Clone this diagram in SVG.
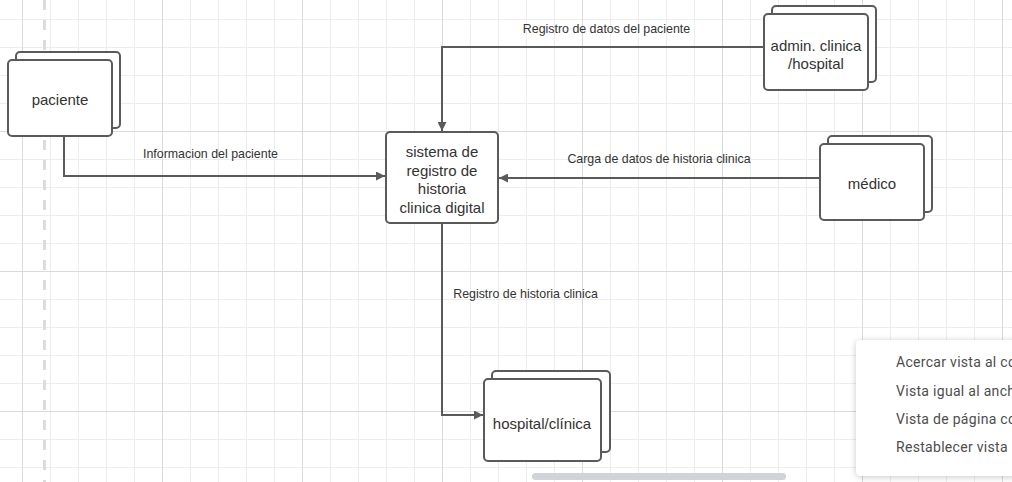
<svg xmlns="http://www.w3.org/2000/svg" width="1012" height="482" viewBox="0 0 1012 482">
<style>
.box{fill:#ffffff;stroke:#5a5a5a;stroke-width:2}
.nt{font-family:"Liberation Sans",Arial,sans-serif;font-size:15px;fill:#333333;text-anchor:middle}
.lb{font-family:"Liberation Sans",Arial,sans-serif;font-size:12.4px;fill:#333333;text-anchor:middle}
.cn{fill:none;stroke:#5a5a5a;stroke-width:2}
.mt{font-family:Roboto,"Liberation Sans",sans-serif;font-size:14px;fill:#4d4d4d;letter-spacing:0.3px}
</style>
<defs>
<pattern id="gmin" patternUnits="userSpaceOnUse" x="22" y="19" width="28" height="28">
<path d="M0.5 0V28M0 0.5H28" stroke="#ededed" stroke-width="1" fill="none"/>
</pattern>
<pattern id="gmaj" patternUnits="userSpaceOnUse" x="22" y="-9" width="140" height="140">
<path d="M0.5 0V140M0 0.5H140" stroke="#dadada" stroke-width="1" fill="none"/>
</pattern>
<marker id="ar" viewBox="0 0 10 10" refX="10" refY="5" markerWidth="11" markerHeight="9" markerUnits="userSpaceOnUse" orient="auto">
<path d="M0 0L10 5L0 10Z" fill="#5a5a5a"/>
</marker>
<filter id="sh" x="-20%" y="-20%" width="140%" height="150%">
<feDropShadow dx="0" dy="1" stdDeviation="3" flood-color="#000000" flood-opacity="0.22"/>
</filter>
</defs>
<rect width="1012" height="482" fill="#ffffff"/>
<rect width="1012" height="482" fill="url(#gmin)"/>
<rect width="1012" height="482" fill="url(#gmaj)"/>
<line x1="44.5" y1="0" x2="44.5" y2="482" stroke="#dcdcdc" stroke-width="3" stroke-dasharray="10 10"/>

<g id="connectors">
<path class="cn" d="M764 47H442V131" marker-end="url(#ar)"/>
<text class="lb" x="606.5" y="33">Registro de datos del paciente</text>
<path class="cn" d="M64 136V176H385" marker-end="url(#ar)"/>
<text class="lb" x="210.5" y="157.5">Informacion del paciente</text>
<path class="cn" d="M820 178H499" marker-end="url(#ar)"/>
<text class="lb" x="659" y="162.5">Carga de datos de historia clinica</text>
<path class="cn" d="M442 223V415H483" marker-end="url(#ar)"/>
<text class="lb" x="525.5" y="298">Registro de historia clinica</text>
</g>

<g id="paciente">
<rect class="box" x="16" y="52" width="104" height="76" rx="4"/>
<rect class="box" x="8" y="60" width="104" height="76" rx="4"/>
<text class="nt" x="60" y="104.5">paciente</text>
</g>

<g id="sistema">
<rect class="box" x="386" y="132" width="112" height="91" rx="4"/>
<text class="nt" x="442" y="157">sistema de</text>
<text class="nt" x="442" y="175.5">registro de</text>
<text class="nt" x="442" y="194">historia</text>
<text class="nt" x="442" y="212.5">clinica digital</text>
</g>

<g id="admin">
<rect class="box" x="772" y="6" width="104" height="76" rx="4"/>
<rect class="box" x="764" y="14" width="104" height="76" rx="4"/>
<text class="nt" x="816" y="51">admin. clinica</text>
<text class="nt" x="816" y="69">/hospital</text>
</g>

<g id="medico">
<rect class="box" x="828" y="136" width="104" height="76" rx="4"/>
<rect class="box" x="820" y="144" width="104" height="76" rx="4"/>
<text class="nt" x="872" y="188.5">médico</text>
</g>

<g id="hospital">
<rect class="box" x="492" y="371" width="118" height="81" rx="4"/>
<rect class="box" x="484" y="379" width="117" height="82" rx="4"/>
<text class="nt" x="542" y="428.5">hospital/clínica</text>
</g>

<rect x="532" y="473" width="254" height="7" rx="3.5" fill="#d0d3d9"/>

<g id="menu">
<rect x="856" y="340" width="170" height="136" rx="5" fill="#ffffff" filter="url(#sh)"/>
<text class="mt" x="896" y="367">Acercar vista al co</text>
<text class="mt" x="896" y="396">Vista igual al anch</text>
<text class="mt" x="896" y="424">Vista de página co</text>
<text class="mt" x="896" y="452">Restablecer vista</text>
</g>
</svg>
